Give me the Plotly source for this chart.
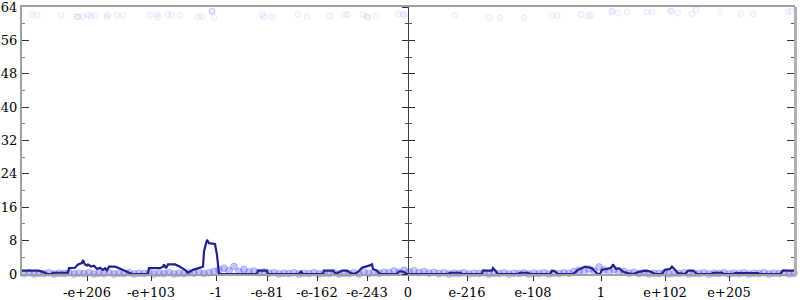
import plotly.graph_objects as go

# ---- data (x = bucket index along the float axis, y = bits of error) ----
tick_pos = [87, 151, 216, 267, 317, 367, 408, 467, 533, 601, 665, 729]
tick_labels = ["-e+206", "-e+103", "-1", "-e-81", "-e-162", "-e-243", "0",
               "e-216", "e-108", "1", "e+102", "e+205"]
y_ticks = [0, 8, 16, 24, 32, 40, 48, 56, 64]

line_x = [22, 38, 43, 47, 52, 53, 68, 69, 75, 78, 82, 83, 85, 87, 88, 91, 94, 97, 100, 103,
          105, 107, 109, 115, 118, 122, 127, 132, 148, 149, 160, 163, 164, 166, 168, 175,
          180, 185, 188, 193, 200, 203, 204, 206, 207, 209, 215, 217, 219,
          257, 258, 267, 268, 299, 301, 303, 323, 324, 333, 336, 342, 347, 350, 354, 358,
          362, 367, 369, 372, 373, 377, 380, 397, 399, 403, 407,
          448, 450, 460, 462, 482, 483, 492, 493, 496, 498, 518, 520, 528, 530, 550, 552,
          555, 558, 573, 578, 585, 589, 592, 595, 598, 600, 602, 606, 610, 612, 613, 616,
          619, 621, 623, 627, 633, 640, 647, 652, 655, 662, 665, 670, 672, 675, 678, 685,
          688, 693, 697, 712, 713, 722, 724, 733, 735, 758, 760, 780, 783, 795]
line_y = [0.8, 0.8, 0.5, 0.0, 0.0, 0.3, 0.3, 1.4, 1.5, 2.3, 2.6, 3.4, 2.3, 2.0, 2.3, 1.8, 2.0, 1.2, 1.5, 1.0,
          1.4, 0.9, 1.75, 1.75, 1.5, 1.0, 0.56, 0.0, 0.0, 1.4, 1.4, 1.75, 2.3, 1.4, 2.3, 2.3,
          1.75, 1.0, 0.3, 1.0, 1.4, 1.75, 5.4, 7.4, 8.2, 7.4, 7.2, 4.6, 0.0,
          0.0, 0.8, 0.8, 0.0, 0.0, 0.6, 0.0, 0.0, 0.8, 0.8, 0.0, 0.8, 0.8, 0.3, 0.0, 0.5,
          1.5, 1.75, 2.0, 2.3, 1.2, 0.8, 0.0, 0.0, 0.6, 0.6, 0.0,
          0.0, 0.3, 0.3, 0.0, 0.0, 0.8, 0.8, 1.4, 0.6, 0.0, 0.0, 0.3, 0.3, 0.0, 0.0, 0.8,
          0.6, 0.0, 0.0, 1.0, 1.75, 1.5, 1.4, 0.6, 0.0, 0.0, 1.0, 1.2, 1.4, 1.75, 2.3, 1.2,
          1.4, 1.0, 0.6, 0.2, 0.0, 0.56, 0.8, 0.4, 0.0, 0.0, 1.0, 1.2, 1.75, 1.0, 0.2, 0.0,
          0.8, 0.8, 0.0, 0.0, 0.3, 0.3, 0.0, 0.0, 0.2, 0.2, 0.0, 0.0, 0.8, 0.8]

top_x = [32, 37, 61, 77, 78, 83, 88, 91, 95, 107, 108, 117, 123, 150, 157, 158, 168, 172,
         180, 198, 202, 212, 212, 212, 214, 262, 264, 272, 298, 307, 330, 345, 348, 363, 367,
         368, 376, 398, 404,
         403, 455, 489, 500, 524, 552, 557, 581, 588, 591, 612, 612, 618, 627, 647, 652,
         671, 671, 678, 692, 696, 720, 741, 753, 788, 791]
top_y = [62.2, 62.0, 62.0, 61.7, 61.6, 61.7, 62.1, 61.8, 62.1, 61.6, 62.1, 62.1, 62.0, 62.1,
         62.2, 61.6, 62.2, 62.0, 62.0, 61.7, 61.8, 63.0, 63.0, 63.0, 61.5, 62.2, 61.6, 61.6,
         62.2, 61.6, 61.8, 62.2, 62.1, 62.2, 61.7, 61.5, 61.8, 62.3, 62.1,
         62.2, 62.0, 61.5, 61.4, 61.4, 62.0, 62.0, 62.2, 61.8, 62.0, 62.9, 62.9, 62.6, 62.8,
         62.8, 62.8, 63.0, 63.0, 62.6, 62.4, 63.2, 62.9, 62.4, 62.4, 62.8, 63.0]

bottom_x = [24, 29, 34, 39, 44, 49, 54, 59, 64, 69,
            74, 79, 84, 89, 94, 99, 104, 109, 114, 119,
            124, 129, 134, 139, 144, 149, 154, 159, 164, 169,
            174, 179, 184, 189, 194, 199, 204, 209, 214, 219,
            224, 229, 234, 239, 244, 249, 254, 259, 264, 269,
            274, 279, 284, 289, 294, 299, 304, 309, 314, 319,
            324, 329, 334, 339, 344, 349, 354, 359, 364, 369,
            374, 379, 384, 389, 394, 399, 404, 409, 414, 419,
            424, 429, 434, 439, 444, 449, 454, 459, 464, 469,
            474, 479, 484, 489, 494, 499, 504, 509, 514, 519,
            524, 529, 534, 539, 544, 549, 554, 559, 564, 569,
            574, 579, 584, 589, 594, 599, 604, 609, 614, 619,
            624, 629, 634, 639, 644, 649, 654, 659, 664, 669,
            674, 679, 684, 689, 694, 699, 704, 709, 714, 719,
            724, 729, 734, 739, 744, 749, 754, 759, 764, 769, 774, 779, 784, 789, 794]
bottom_y = [0.1, 0.3, 0.0, 0.2, 0.1, 0.3, 0.0, 0.2, 0.1, 0.3,
            0.0, 0.2, 0.1, 0.3, 0.0, 0.2, 0.1, 0.3, 0.0, 0.2,
            0.1, 0.3, 0.0, 0.2, 0.1, 0.3, 0.0, 0.2, 0.1, 0.3,
            0.0, 0.2, 0.1, 0.3, 0.2, 0.4, 0.1, 0.3, 0.6, 1.0,
            1.4, 0.8, 1.8, 0.6, 1.1, 0.5, 0.7, 0.3, 0.5, 0.2,
            0.3, 0.0, 0.2, 0.1, 0.3, 0.0, 0.2, 0.1, 0.3, 0.0,
            0.2, 0.1, 0.3, 0.0, 0.2, 0.1, 0.3, 0.0, 0.4, 0.1,
            0.3, 0.2, 0.4, 0.3, 0.7, 0.4, 0.9, 0.5, 0.8, 0.3,
            0.6, 0.2, 0.4, 0.1, 0.3, 0.0, 0.2, 0.1, 0.3, 0.0,
            0.2, 0.1, 0.3, 0.0, 0.2, 0.1, 0.3, 0.0, 0.2, 0.1,
            0.3, 0.0, 0.2, 0.1, 0.3, 0.0, 0.2, 0.1, 0.3, 0.2,
            0.6, 0.9, 0.5, 1.2, 0.7, 1.7, 1.0, 0.6, 1.1, 0.4,
            0.6, 0.2, 0.4, 0.1, 0.3, 0.0, 0.2, 0.1, 0.3, 0.0,
            0.2, 0.1, 0.3, 0.0, 0.2, 0.1, 0.3, 0.0, 0.2, 0.1,
            0.3, 0.0, 0.2, 0.1, 0.3, 0.0, 0.2, 0.1, 0.3, 0.0, 0.2, 0.1, 0.3, 0.0, 0.2]

FONT = "DejaVu Serif"
top_marker = dict(size=6, color="rgba(90,90,255,0.04)",
                  line=dict(color="rgba(90,90,255,0.10)", width=1))
bottom_marker = dict(size=7, color="rgba(50,50,255,0.28)",
                     line=dict(color="rgba(50,50,255,0.22)", width=1))

fig = go.Figure()
fig.add_trace(go.Scatter(x=bottom_x, y=bottom_y, mode="markers", marker=bottom_marker,
                         hoverinfo="skip", showlegend=False, cliponaxis=False))
fig.add_trace(go.Scatter(x=top_x, y=top_y, mode="markers", marker=top_marker,
                         hoverinfo="skip", showlegend=False))
fig.add_trace(go.Scatter(x=line_x, y=line_y, mode="lines",
                         line=dict(color="#22228c", width=2.2), showlegend=False))

mid_pos = (408 - 22) / (795 - 22)

common = dict(range=[0, 64], overlaying="y", anchor="free", tickvals=y_ticks,
              showticklabels=False, showgrid=False, zeroline=False, automargin=False)

fig.update_layout(
    width=800, height=300,
    margin=dict(l=22, r=5, t=7, b=26, autoexpand=False),
    plot_bgcolor="white", paper_bgcolor="white",
    font=dict(family=FONT, size=13, color="black"),
    xaxis=dict(range=[22, 795], tickvals=tick_pos, ticktext=tick_labels,
               showgrid=False, zeroline=False, showline=True, linecolor="#a0a0a0",
               linewidth=2, mirror=True, ticks="outside", ticklen=5,
               tickcolor="#333", tickwidth=1, automargin=False,
               ticklabeloverflow="allow",
               tickfont=dict(family=FONT, size=13, color="black")),
    yaxis=dict(range=[0, 64], tickvals=y_ticks, showgrid=False, zeroline=False,
               showline=True, linecolor="#a0a0a0", linewidth=2, automargin=False,
               ticks="inside", ticklen=7, tickcolor="#333",
               ticklabeloverflow="allow",
               minor=dict(dtick=4, ticks="inside", ticklen=3, tickcolor="#888"),
               tickfont=dict(family=FONT, size=13, color="black")),
    yaxis2=dict(common, position=mid_pos, side="left",
                showline=True, linecolor="#444", linewidth=1,
                ticks="outside", ticklen=6, tickcolor="#333",
                minor=dict(dtick=4, ticks="outside", ticklen=3, tickcolor="#555")),
    yaxis3=dict(common, position=mid_pos, side="left", showline=False,
                ticks="inside", ticklen=6, tickcolor="#333",
                minor=dict(dtick=4, ticks="inside", ticklen=3, tickcolor="#555")),
    yaxis4=dict(common, position=1, side="right",
                showline=True, linecolor="#b0b0b0", linewidth=3,
                ticks="inside", ticklen=7, tickcolor="#333",
                minor=dict(dtick=4, ticks="inside", ticklen=3, tickcolor="#555")),
)
# invisible helper traces so overlay axes render
for ax in ["y2", "y3", "y4"]:
    fig.add_trace(go.Scatter(x=[None], y=[None], yaxis=ax, showlegend=False, hoverinfo="skip"))

fig.write_html("out.html")
